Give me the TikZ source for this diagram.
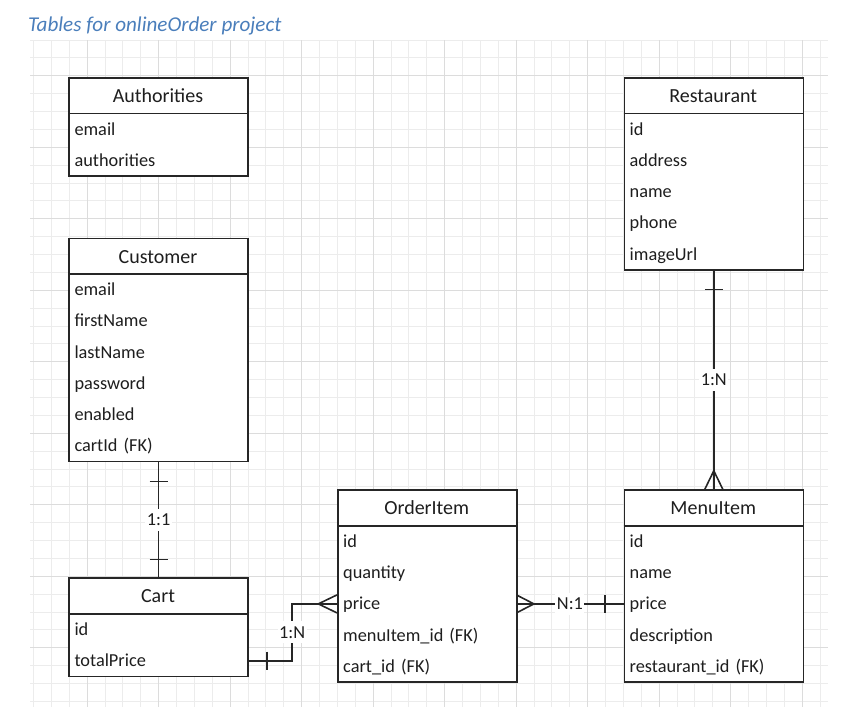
\documentclass[tikz,border=0pt]{standalone}
\usepackage{fontspec}
\setmainfont{Carlito}
\usetikzlibrary{calc}

\definecolor{inkc}{HTML}{262626}
\definecolor{textc}{HTML}{1E1E1E}
\definecolor{gridminor}{HTML}{ECECEC}
\definecolor{gridmajor}{HTML}{DCDCDC}
\definecolor{titleblue}{HTML}{4A7EBB}

\newcommand\hdrfont{\fontsize{20}{24}\selectfont}
\newcommand\fldfont{\fontsize{18.3}{22}\selectfont}

\tikzset{
  tablebox/.style={draw=inkc, line width=1.6pt, fill=white, minimum width=179pt,
    anchor=north west, inner sep=0pt},
  headrow/.style={anchor=north west, minimum width=179pt, minimum height=36pt,
    inner sep=0pt, font=\hdrfont, text height=16pt, text depth=1.4pt, text=textc},
  fieldrow/.style={anchor=north west, text width=167pt, inner xsep=6pt, inner ysep=0pt,
    minimum height=31.2pt, align=left, font=\fldfont, text height=14pt, text depth=2pt,
    text=textc},
  conn/.style={draw=inkc, line width=1.6pt},
  rellabel/.style={fill=white, font=\fldfont, inner xsep=1.5pt, inner ysep=5pt,
    text height=12pt, text depth=0pt, text=textc},
}

% #1 name, #2 x, #3 y, #4 number of fields, #5 title, #6 fields
\newcommand\ertable[6]{%
  \node[tablebox, minimum height={36pt+31.2pt*#4}] (#1) at (#2,#3) {};
  \node[headrow] (#1-h) at (#1.north west) {#5};
  \draw[conn] (#1-h.south west) -- (#1-h.south east);
  \foreach \f [count=\k] in {#6} {
    \node[fieldrow] (#1-\k) at ($(#1-h.south west)+(0,{31.2*(\k-1)})$) {\f};
  }
}

\begin{document}
\begin{tikzpicture}[x=1pt, y=-1pt]
\useasboundingbox (0,0) rectangle (844,720);

% background grid
\begin{scope}
  \clip (30,40) rectangle (828,707);
  \foreach \k in {0,...,44}
    \draw[gridminor, line width=0.9pt] ({33.5+17.875*\k},40) -- ({33.5+17.875*\k},707);
  \foreach \k in {0,...,37}
    \draw[gridminor, line width=0.9pt] (30,{40+17.875*\k}) -- (828,{40+17.875*\k});
  \foreach \k in {3,7,...,43}
    \draw[gridmajor, line width=0.9pt] ({33.5+17.875*\k},40) -- ({33.5+17.875*\k},707);
  \foreach \k in {2,6,...,34}
    \draw[gridmajor, line width=0.9pt] (30,{40+17.875*\k}) -- (828,{40+17.875*\k});
\end{scope}

% title
\node[anchor=base west, inner sep=0pt, font=\fontsize{21.1}{25}\selectfont\itshape,
  text=titleblue] (title) at (28,31.7) {Tables for onlineOrder project};

% tables
\ertable{authorities}{68.3}{77}{2}{Authorities}{email,authorities}
\ertable{restaurant}{623.5}{77}{5}{Restaurant}{id,address,name,phone,imageUrl}
\ertable{customer}{68.3}{237.5}{6}{Customer}{email,firstName,lastName,password,enabled,cartId (FK)}
\ertable{cart}{68.3}{577.3}{2}{Cart}{id,totalPrice}
\ertable{orderitem}{337}{489.3}{5}{OrderItem}{id,quantity,price,menuItem\_id (FK),cart\_id (FK)}
\ertable{menuitem}{623.5}{489.3}{5}{MenuItem}{id,name,price,description,restaurant\_id (FK)}

% Customer 1:1 Cart
\draw[conn] (customer.south) -- (cart.north) node[midway, rellabel] (lbl-cc) {1:1};
\draw[conn] ($(customer.south)+(-9,19)$) -- ++(18,0);
\draw[conn] ($(cart.north)+(-9,-18)$) -- ++(18,0);

% Restaurant 1:N MenuItem
\draw[conn] (restaurant.south) -- (menuitem.north) node[midway, rellabel] (lbl-rm) {1:N};
\draw[conn] ($(restaurant.south)+(-9,19)$) -- ++(18,0);
\draw[conn] ($(menuitem.north)+(-9,0)$) -- ($(menuitem.north)+(0,-18.5)$) -- ($(menuitem.north)+(9,0)$);

% Cart 1:N OrderItem
\draw[conn] (cart-2.east) -- ++(44.4,0) coordinate (co-bend1) |- (orderitem-3.west);
\coordinate (co-bend2) at (co-bend1 |- orderitem-3.west);
\node[rellabel] (lbl-co) at ($(co-bend1)!0.5!(co-bend2)$) {1:N};
\draw[conn] ($(cart-2.east)+(19,-9)$) -- ++(0,18);
\draw[conn] ($(orderitem-3.west)+(0,-9)$) -- ($(orderitem-3.west)+(-18.7,0)$) -- ($(orderitem-3.west)+(0,9)$);

% OrderItem N:1 MenuItem
\draw[conn] (orderitem-3.east) -- (menuitem-3.west) node[midway, rellabel] (lbl-om) {N:1};
\draw[conn] ($(orderitem-3.east)+(0,-9)$) -- ($(orderitem-3.east)+(17.5,0)$) -- ($(orderitem-3.east)+(0,9)$);
\draw[conn] ($(menuitem-3.west)+(-18.7,-9)$) -- ++(0,18);

\end{tikzpicture}
\end{document}
